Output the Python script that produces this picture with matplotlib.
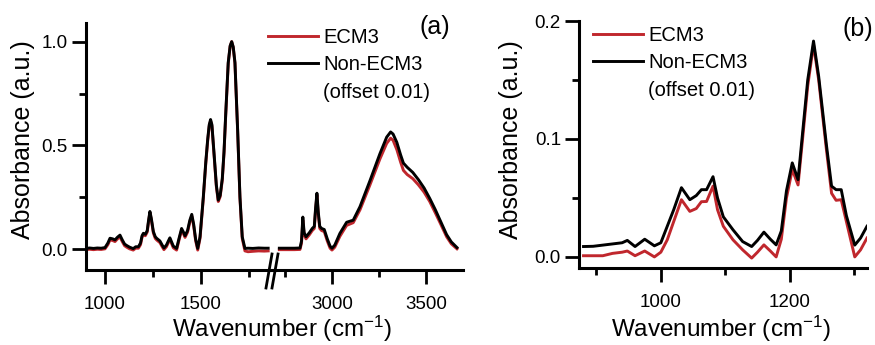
import matplotlib
matplotlib.use("Agg")
import matplotlib.pyplot as plt
from matplotlib.lines import Line2D
from matplotlib.ticker import FixedLocator

plt.rcParams['font.family'] = ['Liberation Sans', 'DejaVu Sans']
plt.rcParams['mathtext.fontset'] = 'custom'
plt.rcParams['mathtext.rm'] = 'Liberation Sans'
plt.rcParams['mathtext.it'] = 'Liberation Sans'

# ---------------- data ----------------
# Panel (a), left segment (fingerprint / amide region)
wn_a1 = [900, 920, 940, 960, 980, 1000, 1015, 1026, 1040, 1052,
         1065, 1078, 1090, 1102, 1113, 1128, 1147, 1160, 1174, 1185,
         1193, 1200, 1210, 1220, 1227, 1234, 1241, 1252, 1262, 1270,
         1286, 1298, 1307, 1320, 1330, 1338, 1347, 1356, 1373, 1385,
         1399, 1410, 1417, 1430, 1442, 1452, 1462, 1472, 1483, 1495,
         1512, 1525, 1535, 1543, 1550, 1557, 1569, 1580, 1590, 1600,
         1611, 1620, 1629, 1642, 1652, 1660, 1668, 1677, 1691, 1703,
         1715, 1729, 1745, 1770, 1800, 1830, 1850]
ecm3_a1 = [-0.002, 0.0, -0.002, 0.0, -0.001, 0.002, 0.022, 0.045, 0.042, 0.037,
           0.05, 0.06, 0.037, 0.017, 0.01, 0.002, -0.004, 0.005, 0.005, 0.022,
           0.058, 0.07, 0.065, 0.083, 0.133, 0.176, 0.143, 0.078, 0.052, 0.044,
           0.032, 0.012, -0.002, 0.012, 0.032, 0.047, 0.027, 0.007, -0.004, 0.042,
           0.092, 0.072, 0.057, 0.082, 0.132, 0.16, 0.112, 0.042, -0.004, 0.052,
           0.243, 0.413, 0.523, 0.593, 0.618, 0.593, 0.443, 0.303, 0.23, 0.253,
           0.333, 0.463, 0.648, 0.895, 0.978, 1.0, 0.972, 0.895, 0.57, 0.246,
           0.052, -0.008, -0.012, -0.01, -0.008, -0.009, -0.008]
nonecm3_a1 = [-0.006, -0.004, -0.006, -0.004, -0.005, -0.002, 0.02, 0.043, 0.04, 0.035,
              0.048, 0.058, 0.035, 0.015, 0.008, 0.0, -0.007, 0.002, 0.002, 0.02,
              0.055, 0.067, 0.062, 0.08, 0.13, 0.172, 0.14, 0.075, 0.05, 0.042,
              0.03, 0.01, -0.004, 0.01, 0.03, 0.045, 0.025, 0.005, -0.006, 0.04,
              0.09, 0.07, 0.055, 0.08, 0.13, 0.158, 0.11, 0.04, -0.006, 0.05,
              0.24, 0.41, 0.52, 0.59, 0.615, 0.59, 0.44, 0.3, 0.227, 0.25,
              0.33, 0.46, 0.645, 0.89, 0.97, 0.99, 0.965, 0.89, 0.565, 0.243,
              0.05, -0.006, -0.005, -0.006, -0.004, -0.005, -0.005]

# Panel (a), right segment (CH / OH stretch region)
wn_a2 = [2720, 2760, 2800, 2830, 2838, 2845, 2852, 2862, 2880, 2895,
         2906, 2913, 2920, 2927, 2935, 2945, 2959, 2975, 2990, 3000,
         3015, 3042, 3078, 3113, 3149, 3202, 3255, 3291, 3312, 3325,
         3345, 3365, 3380, 3400, 3430, 3460, 3490, 3520, 3550, 3580,
         3610, 3635, 3665]
ecm3_a2 = [-0.002, -0.002, -0.002, -0.001, 0.03, 0.14, 0.07, 0.05, 0.07, 0.09,
           0.1, 0.19, 0.26, 0.17, 0.1, 0.09, 0.085, 0.04, 0.005, -0.004,
           0.01, 0.062, 0.115, 0.128, 0.19, 0.31, 0.435, 0.51, 0.535, 0.525,
           0.48, 0.42, 0.38, 0.36, 0.34, 0.31, 0.275, 0.23, 0.175, 0.118,
           0.06, 0.026, 0.002]
nonecm3_a2 = [-0.005, -0.005, -0.005, -0.004, 0.03, 0.145, 0.07, 0.05, 0.07, 0.09,
              0.1, 0.19, 0.26, 0.17, 0.1, 0.09, 0.085, 0.04, 0.005, -0.005,
              0.01, 0.066, 0.12, 0.13, 0.195, 0.32, 0.45, 0.53, 0.555, 0.545,
              0.505, 0.445, 0.405, 0.385, 0.36, 0.325, 0.285, 0.235, 0.18, 0.12,
              0.06, 0.025, -0.002]

# Panel (b)
wn_b = [880, 895, 910, 925, 940, 948, 960, 975, 990, 1000,
        1010, 1020, 1032, 1045, 1055, 1063, 1071, 1081, 1088, 1097,
        1112, 1127, 1141, 1150, 1160, 1170, 1179, 1187, 1195, 1204,
        1213, 1220, 1228, 1237, 1245, 1257, 1265, 1272, 1280, 1288,
        1301, 1310, 1320]
ecm3_b = [0.001, 0.001, 0.001, 0.003, 0.004, 0.005, 0.001, 0.005, 0.0, 0.004,
          0.0145, 0.03, 0.0485, 0.0386, 0.041, 0.0468, 0.047, 0.06, 0.04, 0.026,
          0.0145, 0.006, -0.001, 0.004, 0.0102, 0.005, 0.0, 0.015, 0.05, 0.074,
          0.061, 0.1, 0.145, 0.18, 0.15, 0.091, 0.054, 0.048, 0.0485, 0.03,
          0.0, 0.006, 0.016]
nonecm3_b = [-0.0012, -0.001, 0.0, 0.001, 0.002, 0.004, -0.0012, 0.005, -0.0006, 0.002,
             0.016, 0.03, 0.0487, 0.0385, 0.042, 0.047, 0.047, 0.058, 0.04, 0.024,
             0.013, 0.003, -0.0012, 0.004, 0.011, 0.005, 0.0002, 0.012, 0.046, 0.0697,
             0.0555, 0.095, 0.14, 0.173, 0.143, 0.085, 0.05, 0.047, 0.047, 0.025,
             0.0, 0.006, 0.016]
offset = 0.01

series_labels = ["ECM3", "Non-ECM3", "(offset 0.01)"]
panel_labels = ["(a)", "(b)"]
xlabel = r"Wavenumber (cm$^{\mathregular{-1}}$)"
ylabel = "Absorbance (a.u.)"

# ---------------- style ----------------
RED = '#C0272D'
BLACK = '#000000'
LW = 2.1
W, H = 875, 345
TICKFS = 13.5
LABFS = 18
LEGFS = 14.5


def px_rect(l, r, top, bottom):
    return [l / W, 1 - bottom / H, (r - l) / W, (bottom - top) / H]


fig = plt.figure(figsize=(W / 100, H / 100), dpi=100)

ax1 = fig.add_axes(px_rect(86, 272, 23, 270))
ax2 = fig.add_axes(px_rect(272, 463, 23, 270))
axb = fig.add_axes(px_rect(579, 867, 21, 268))

for ax in (ax1, ax2, axb):
    for s in ('top', 'right'):
        ax.spines[s].set_visible(False)
    for s in ('left', 'bottom'):
        ax.spines[s].set_linewidth(2.2)
    ax.tick_params(which='major', direction='out', length=10, width=2, labelsize=TICKFS)
    ax.tick_params(which='minor', direction='out', length=5, width=2)
    ax.tick_params(axis='x', which='major', pad=9)
    ax.tick_params(axis='y', which='major', pad=3)
    ax.patch.set_alpha(0)

ax2.spines['left'].set_visible(False)
ax2.tick_params(axis='y', which='both', left=False, labelleft=False)

# plot panel (a)
ax1.plot(wn_a1, ecm3_a1, color=RED, lw=LW, solid_joinstyle='round')
ax1.plot(wn_a1, [v + offset for v in nonecm3_a1], color=BLACK, lw=LW, solid_joinstyle='round')
ax2.plot(wn_a2, ecm3_a2, color=RED, lw=LW, solid_joinstyle='round')
ax2.plot(wn_a2, [v + offset for v in nonecm3_a2], color=BLACK, lw=LW, solid_joinstyle='round')

ax1.set_xlim(901, 1870)
ax2.set_xlim(2681, 3697)
for ax in (ax1, ax2):
    ax.set_ylim(-0.10, 1.09)
ax1.xaxis.set_major_locator(FixedLocator([1000, 1500]))
ax1.xaxis.set_minor_locator(FixedLocator([1250, 1750]))
ax2.xaxis.set_major_locator(FixedLocator([3000, 3500]))
ax2.xaxis.set_minor_locator(FixedLocator([2750, 3250]))
ax1.yaxis.set_major_locator(FixedLocator([0.0, 0.5, 1.0]))
ax1.yaxis.set_minor_locator(FixedLocator([0.25, 0.75]))
ax1.set_yticklabels(["0.0", "0.5", "1.0"])

# plot panel (b)
axb.plot(wn_b, ecm3_b, color=RED, lw=LW, solid_joinstyle='round')
axb.plot(wn_b, [v + offset for v in nonecm3_b], color=BLACK, lw=LW, solid_joinstyle='round')
axb.set_xlim(873, 1320)
axb.set_ylim(-0.0094, 0.2)
axb.xaxis.set_major_locator(FixedLocator([1000, 1200]))
axb.xaxis.set_minor_locator(FixedLocator([900, 1100, 1300]))
axb.yaxis.set_major_locator(FixedLocator([0.0, 0.1, 0.2]))
axb.yaxis.set_minor_locator(FixedLocator([0.05, 0.15]))
axb.set_yticklabels(["0.0", "0.1", "0.2"])

# break marks on panel (a) x axis
for dx in (0, 6):
    fig.add_artist(Line2D([(266 + dx) / W, (272 + dx) / W], [1 - 288 / H, 1 - 254 / H],
                          color='black', lw=2, transform=fig.transFigure))

# axis labels
fig.text(282 / W, 1 - 337 / H, xlabel, ha='center', va='baseline', fontsize=17.5)
fig.text(721 / W, 1 - 337 / H, xlabel, ha='center', va='baseline', fontsize=17.5)
fig.text(23 / W, 1 - 140 / H, ylabel, ha='center', va='center', rotation=90, fontsize=LABFS)
fig.text(511 / W, 1 - 140 / H, ylabel, ha='center', va='center', rotation=90, fontsize=LABFS)

# panel labels
fig.text(435 / W, 1 - 27 / H, panel_labels[0], ha='center', va='center', fontsize=LABFS)
fig.text(858 / W, 1 - 29 / H, panel_labels[1], ha='center', va='center', fontsize=LABFS)


# legends
def make_legend(x_px, y_px):
    handles = [Line2D([], [], color=RED, lw=LW),
               Line2D([], [], color=BLACK, lw=LW),
               Line2D([], [], color='none', lw=LW)]
    fig.legend(handles, series_labels, loc='upper left',
               bbox_to_anchor=(x_px / W, 1 - y_px / H), bbox_transform=fig.transFigure,
               frameon=False, borderpad=0, borderaxespad=0, handlelength=2.5,
               handletextpad=0.25, labelspacing=0.42, fontsize=LEGFS)


make_legend(268, 28)
make_legend(593, 26)

fig.savefig("out.png", dpi=100)
